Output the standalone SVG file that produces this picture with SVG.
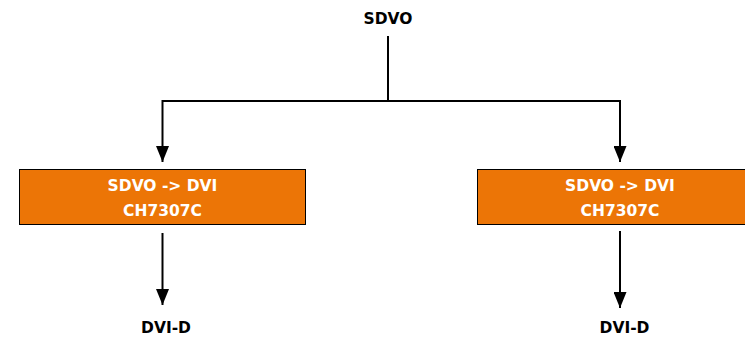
<svg xmlns="http://www.w3.org/2000/svg" width="745" height="339" viewBox="0 0 745 339">
<style>
text{font-family:"DejaVu Sans","Liberation Sans",sans-serif;font-weight:bold;font-size:15.5px;text-anchor:middle}
.lbl{fill:#000}
.in{fill:#fff}
.box{fill:#EC7506;stroke:#000;stroke-width:1}
.ln{fill:none;stroke:#000;stroke-width:2}
</style>
<defs>
<marker id="ah" viewBox="0 0 16 13" refX="16" refY="6.5" markerWidth="16" markerHeight="13" markerUnits="userSpaceOnUse" orient="auto">
<path d="M0,0 L16,6.5 L0,13 Z" fill="#000"/>
</marker>
</defs>
<rect width="745" height="339" fill="#fff"/>
<g id="connectors">
<path class="ln" d="M388,36 V101"/>
<path class="ln" d="M162.5,101 H620"/>
<path class="ln" d="M162.5,100 V162" marker-end="url(#ah)"/>
<path class="ln" d="M620,100 V162" marker-end="url(#ah)"/>
<path class="ln" d="M162.5,233 V305" marker-end="url(#ah)"/>
<path class="ln" d="M620,231 V308" marker-end="url(#ah)"/>
</g>
<g id="sdvo"><text class="lbl" x="388" y="24">SDVO</text></g>
<g id="conv1">
<rect class="box" x="19.5" y="169.5" width="286" height="55"/>
<text class="in" x="162.5" y="191">SDVO -&gt; DVI</text>
<text class="in" x="162.5" y="216">CH7307C</text>
</g>
<g id="conv2">
<rect class="box" x="477.5" y="169.5" width="286" height="55"/>
<text class="in" x="620" y="191">SDVO -&gt; DVI</text>
<text class="in" x="620" y="216">CH7307C</text>
</g>
<g id="dvi1"><text class="lbl" x="166" y="333">DVI-D</text></g>
<g id="dvi2"><text class="lbl" x="624.5" y="333">DVI-D</text></g>
</svg>
